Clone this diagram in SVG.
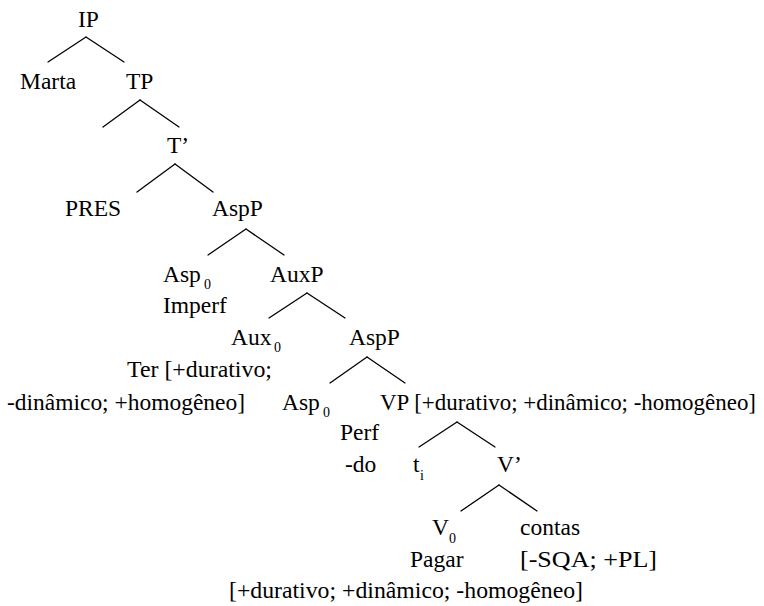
<svg xmlns="http://www.w3.org/2000/svg" width="764" height="606" viewBox="0 0 764 606">
<style>
text{font-family:'Liberation Serif','Times New Roman',Tinos,'DejaVu Serif',serif;font-size:23.5px;fill:#000}
.sub{font-size:14px}
#connectors line{stroke:#000;stroke-width:1.3;stroke-linecap:round}
</style>
<rect width="764" height="606" fill="#fff"/>
<g id="connectors">
<line x1="86" y1="37" x2="48" y2="62"/><line x1="86" y1="37" x2="124" y2="62"/>
<line x1="140" y1="100" x2="103" y2="127"/><line x1="140" y1="100" x2="179" y2="127"/>
<line x1="175" y1="164" x2="137" y2="192"/><line x1="175" y1="164" x2="213" y2="192"/>
<line x1="246" y1="229" x2="208" y2="255"/><line x1="246" y1="229" x2="284" y2="255"/>
<line x1="307" y1="293" x2="269" y2="318"/><line x1="307" y1="293" x2="345" y2="318"/>
<line x1="367" y1="357" x2="330" y2="383"/><line x1="367" y1="357" x2="405" y2="383"/>
<line x1="457" y1="422" x2="419" y2="447"/><line x1="457" y1="422" x2="495" y2="447"/>
<line x1="499" y1="485" x2="461" y2="511"/><line x1="499" y1="485" x2="537" y2="511"/>
</g>
<g id="IP"><text x="78" y="27">IP</text></g>
<g id="Marta"><text x="20" y="89">Marta</text></g>
<g id="TP"><text x="126" y="89">TP</text></g>
<g id="Tbar"><text x="167" y="153">T’</text></g>
<g id="PRES"><text x="65" y="216">PRES</text></g>
<g id="AspP1"><text x="212" y="216">AspP</text></g>
<g id="Asp0-1"><text x="163" y="282">Asp</text><text class="sub" x="204" y="289">0</text><text x="163" y="313">Imperf</text></g>
<g id="AuxP"><text x="270" y="282">AuxP</text></g>
<g id="Aux0"><text x="231" y="345">Aux</text><text class="sub" x="274" y="352">0</text><text x="127" y="377" textLength="145" lengthAdjust="spacingAndGlyphs">Ter [+durativo;</text><text x="7" y="410" textLength="238" lengthAdjust="spacingAndGlyphs">-dinâmico; +homogêneo]</text></g>
<g id="AspP2"><text x="349" y="345">AspP</text></g>
<g id="Asp0-2"><text x="282" y="410">Asp</text><text class="sub" x="323" y="417">0</text><text x="340" y="440">Perf</text><text x="345" y="472">-do</text></g>
<g id="VP"><text x="380" y="410" textLength="376" lengthAdjust="spacingAndGlyphs">VP [+durativo; +dinâmico; -homogêneo]</text></g>
<g id="ti"><text x="413" y="472">t</text><text class="sub" x="420" y="480">i</text></g>
<g id="Vbar"><text x="497" y="472">V’</text></g>
<g id="V0"><text x="432" y="535">V</text><text class="sub" x="449" y="543">0</text><text x="410" y="567">Pagar</text><text x="229" y="598" textLength="354" lengthAdjust="spacingAndGlyphs">[+durativo; +dinâmico; -homogêneo]</text></g>
<g id="contas"><text x="520" y="535">contas</text><text x="520" y="567" textLength="137" lengthAdjust="spacingAndGlyphs">[-SQA; +PL]</text></g>
</svg>
